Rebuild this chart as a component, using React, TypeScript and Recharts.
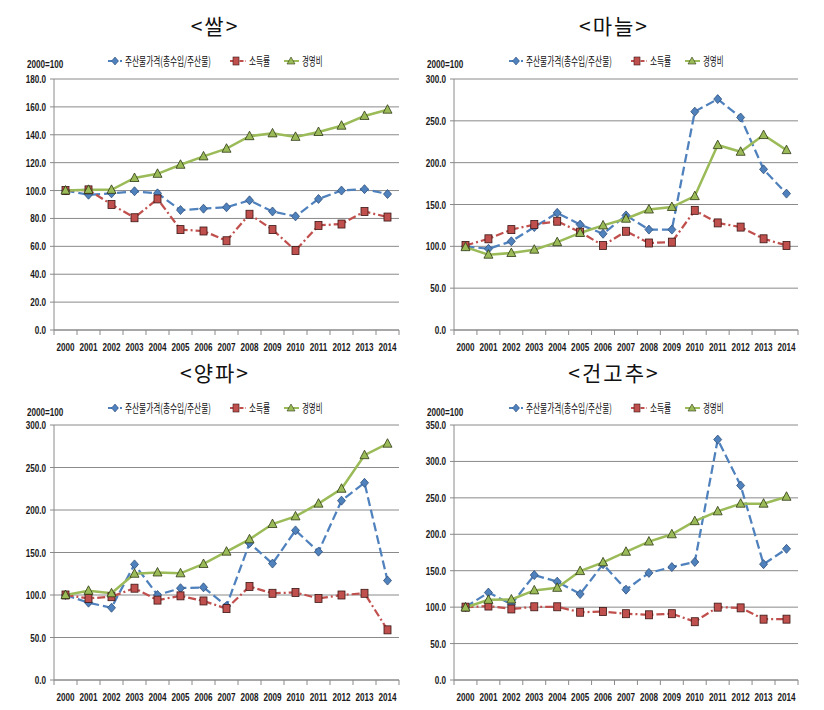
import React from 'react';
import { LineChart, Line, XAxis, YAxis, CartesianGrid } from 'recharts';

const years = ['2000', '2001', '2002', '2003', '2004', '2005', '2006', '2007', '2008', '2009', '2010', '2011', '2012', '2013', '2014'];

const seriesNames = ['주산물가격(총수입/주산물)', '소득률', '경영비'];
const titles = ['<쌀>', '<마늘>', '<양파>', '<건고추>'];
const baseLabel = '2000=100';

// 쌀
const ricePrice = [100, 97, 98, 99.5, 98, 86, 87, 88, 93, 85, 81.5, 94, 100, 101, 97.5];
const riceIncome = [100, 100.5, 90, 80.5, 94, 72, 71, 64, 83, 72, 57, 75, 76, 85, 81];
const riceCost = [100, 100.5, 100.5, 109, 112, 118.5, 124.5, 130, 139, 141, 138.5, 142, 146.5, 153.5, 158];
const riceTicks = [0, 20, 40, 60, 80, 100, 120, 140, 160, 180];

// 마늘
const garlicPrice = [100, 97, 106, 123, 140, 126, 115, 137, 120, 120, 261, 276, 254, 192, 163];
const garlicIncome = [101, 109, 120, 126, 130, 117, 101, 118, 104, 105, 143, 128, 123, 109, 101];
const garlicCost = [99, 90, 92, 96, 105, 116, 125, 133, 144, 147, 160, 221, 213, 233, 215];
const garlicTicks = [0, 50, 100, 150, 200, 250, 300];

// 양파
const onionPrice = [100, 91, 85, 136, 100, 108, 109, 87, 161, 137, 176, 151, 211, 232, 117];
const onionIncome = [100, 96, 98, 108, 94, 99, 93, 84, 110, 102, 103, 96, 100, 102, 59];
const onionCost = [100, 105, 102, 125, 126.5, 125.5, 136.5, 151, 165.5, 183.5, 192.5, 207.5, 225, 264.5, 278];
const onionTicks = [0, 50, 100, 150, 200, 250, 300];

// 건고추
const pepperPrice = [100, 120, 104, 144, 135, 118, 159, 124, 147, 155, 162, 330, 267, 159, 180];
const pepperIncome = [100, 101.5, 97.5, 100.5, 100.5, 93, 94, 91, 89.5, 91, 80, 100, 99, 83.5, 83.5];
const pepperCost = [99.5, 110, 110.5, 123, 126.5, 149.5, 161.5, 176, 190, 200, 218, 231.5, 242, 242, 251.5];
const pepperTicks = [0, 50, 100, 150, 200, 250, 300, 350];

const BLUE = '#4F81BD';
const RED = '#C0504D';
const GREEN = '#9BBB59';
const AXIS = '#8A8A8A';

const buildData = (p: number[], inc: number[], c: number[]) =>
  years.map((y, i) => ({ year: y, price: p[i], income: inc[i], cost: c[i] }));

const DiamondDot = (props: any) => {
  const { cx, cy, index } = props;
  if (cx == null || cy == null) return <g key={index} />;
  return (
    <path key={index} d={`M${cx},${cy - 4.5} L${cx + 4},${cy} L${cx},${cy + 4.5} L${cx - 4},${cy} Z`}
      fill={BLUE} stroke="#2F4F7A" strokeWidth={0.8} />
  );
};
const SquareDot = (props: any) => {
  const { cx, cy, index } = props;
  if (cx == null || cy == null) return <g key={index} />;
  return <rect key={index} x={cx - 3.5} y={cy - 4} width={7} height={8} fill={RED} stroke="#3A1615" strokeWidth={0.8} />;
};
const TriangleDot = (props: any) => {
  const { cx, cy, index } = props;
  if (cx == null || cy == null) return <g key={index} />;
  return (
    <path key={index} d={`M${cx},${cy - 5} L${cx + 4.5},${cy + 3.5} L${cx - 4.5},${cy + 3.5} Z`}
      fill={GREEN} stroke="#2E3A14" strokeWidth={0.8} />
  );
};

const XTick = (props: any) => {
  const { x, y, payload, index, visibleTicksCount } = props;
  const half = 11.5;
  return (
    <g>
      <line x1={x - half} x2={x - half} y1={y} y2={y + 5} stroke={AXIS} />
      {index === visibleTicksCount - 1 ? <line x1={x + half} x2={x + half} y1={y} y2={y + 5} stroke={AXIS} /> : null}
      <text transform={`translate(${x},${y + 21}) scale(0.74,1)`} textAnchor="middle"
        fontFamily="'Liberation Sans', Arial, sans-serif" fontWeight="bold" fontSize={11} fill="#1a1a1a">
        {payload.value}
      </text>
    </g>
  );
};

const YTick = (props: any) => {
  const { x, y, payload } = props;
  return (
    <text transform={`translate(${x},${y + 4}) scale(0.74,1)`} textAnchor="end"
      fontFamily="'Liberation Sans', Arial, sans-serif" fontWeight="bold" fontSize={11} fill="#1a1a1a">
      {Number(payload.value).toFixed(1)}
    </text>
  );
};

const LegendSvg = ({ left, top }: { left: number; top: number }) => (
  <svg style={{ position: 'absolute', left, top, overflow: 'visible' }} width={230} height={16}>
    <g fontFamily="'Noto Sans CJK KR', sans-serif" fontSize={12} fill="#111">
      <line x1={0} x2={14} y1={8} y2={8} stroke={BLUE} strokeWidth={2} strokeDasharray="4 2" />
      <path d="M7,4 L10.5,8 L7,12 L3.5,8 Z" fill={BLUE} stroke="#2F4F7A" strokeWidth={0.6} />
      <text transform="translate(17,12.5) scale(0.64,1)">{seriesNames[0]}</text>
      <line x1={122} x2={138} y1={8} y2={8} stroke={RED} strokeWidth={2} strokeDasharray="4 2 1.5 2" />
      <rect x={125} y={4} width={6} height={8} fill={RED} stroke="#3A1615" strokeWidth={0.6} />
      <text transform="translate(141,12.5) scale(0.64,1)">{seriesNames[1]}</text>
      <line x1={176} x2={191} y1={8} y2={8} stroke={GREEN} strokeWidth={2} />
      <path d="M183,4 L187,11 L179,11 Z" fill={GREEN} stroke="#2E3A14" strokeWidth={0.6} />
      <text transform="translate(194,12.5) scale(0.62,1)">{seriesNames[2]}</text>
    </g>
  </svg>
);

type PanelProps = {
  left: number;
  top: number;
  title: string;
  titleX: number;
  titleY: number;
  legendX: number;
  legendY: number;
  baseX: number;
  baseY: number;
  data: any[];
  ticks: number[];
  margin: { top: number; right: number; left: number; bottom: number };
  xHeight: number;
};

const Panel = (p: PanelProps) => (
  <div style={{ position: 'absolute', left: p.left, top: p.top, width: 412, height: 355 }}>
    <div style={{
      position: 'absolute', left: p.titleX - 100, top: p.titleY - 15, width: 200, textAlign: 'center',
      fontFamily: "'Noto Sans CJK KR', sans-serif", fontSize: 21, lineHeight: '30px', letterSpacing: 2, color: '#111',
    }}>{p.title}</div>
    <LineChart width={412} height={355} data={p.data} margin={p.margin}>
      <CartesianGrid vertical={false} stroke={AXIS} strokeWidth={1} />
      <XAxis dataKey="year" interval={0} padding={{ left: 11.5, right: 11.5 }} height={p.xHeight}
        axisLine={{ stroke: AXIS }} tickLine={false} tickSize={0} tickMargin={0} tick={<XTick />} />
      <YAxis width={40} domain={[0, p.ticks[p.ticks.length - 1]]} ticks={p.ticks} interval={0}
        axisLine={{ stroke: AXIS }} tickLine={{ stroke: AXIS }} tickSize={4} tickMargin={4} tick={<YTick />} />
      <Line type="linear" dataKey="price" stroke={BLUE} strokeWidth={2.25} strokeDasharray="9 4"
        dot={DiamondDot} activeDot={false} isAnimationActive={false} />
      <Line type="linear" dataKey="income" stroke={RED} strokeWidth={2.25} strokeDasharray="8 3 2 3"
        dot={SquareDot} activeDot={false} isAnimationActive={false} />
      <Line type="linear" dataKey="cost" stroke={GREEN} strokeWidth={2.5}
        dot={TriangleDot} activeDot={false} isAnimationActive={false} />
    </LineChart>
    <LegendSvg left={p.legendX} top={p.legendY - 8} />
    <svg style={{ position: 'absolute', left: p.baseX, top: p.baseY - 8, overflow: 'visible' }} width={40} height={16}>
      <text transform="translate(0,12) scale(0.74,1)"
        fontFamily="'Liberation Sans', Arial, sans-serif" fontWeight="bold" fontSize={11} fill="#1a1a1a">{baseLabel}</text>
    </svg>
  </div>
);

export default function App() {
  return (
    <div style={{ position: 'absolute', left: 0, top: 0, width: 824, height: 710, background: '#fff', overflow: 'hidden' }}>
      <Panel left={0} top={0} title={titles[0]} titleX={215} titleY={25} legendX={108} legendY={61}
        baseX={27} baseY={64} data={buildData(ricePrice, riceIncome, riceCost)} ticks={riceTicks}
        margin={{ top: 79, right: 13, left: 14, bottom: 0 }} xHeight={25} />
      <Panel left={412} top={0} title={titles[1]} titleX={202} titleY={25} legendX={97} legendY={61}
        baseX={15} baseY={64} data={buildData(garlicPrice, garlicIncome, garlicCost)} ticks={garlicTicks}
        margin={{ top: 79, right: 26, left: 2, bottom: 0 }} xHeight={25} />
      <Panel left={0} top={355} title={titles[2]} titleX={215} titleY={17} legendX={108} legendY={53}
        baseX={27} baseY={57} data={buildData(onionPrice, onionIncome, onionCost)} ticks={onionTicks}
        margin={{ top: 70, right: 13, left: 14, bottom: 0 }} xHeight={30} />
      <Panel left={412} top={355} title={titles[3]} titleX={202} titleY={17} legendX={97} legendY={53}
        baseX={15} baseY={57} data={buildData(pepperPrice, pepperIncome, pepperCost)} ticks={pepperTicks}
        margin={{ top: 70, right: 26, left: 2, bottom: 0 }} xHeight={30} />
    </div>
  );
}
